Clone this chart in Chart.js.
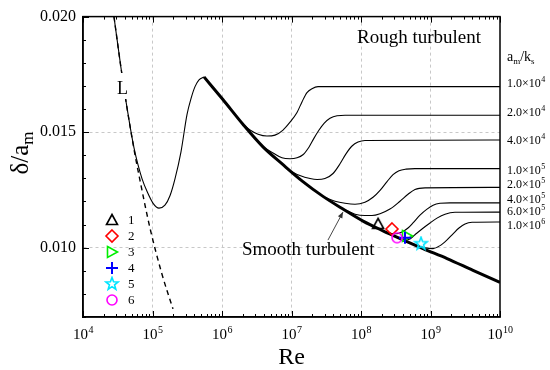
<!DOCTYPE html>
<html><head><meta charset="utf-8">
<script src="https://cdn.jsdelivr.net/npm/chart.js@4/dist/chart.umd.min.js"></script>
<style>html,body{margin:0;padding:0;background:#fff}canvas{display:block}</style>
</head><body>
<canvas id="c" width="550" height="370"></canvas>
<script>
// ---------- data ----------
const xTickValues = [1e4, 1e5, 1e6, 1e7, 1e8, 1e9, 1e10];
const yTickValues = [0.010, 0.015, 0.020];

// laminar line "L" (dashed)
const laminarRe    = [2.79e4, 3.52e4, 4.16e4, 4.75e4, 5.60e4, 6.61e4, 9.20e4, 1.37e5, 1.97e5];
const laminarDelta = [0.02000, 0.01778, 0.01632, 0.01526, 0.01402, 0.01291, 0.01085, 0.00885, 0.00735];

// transition curve (thin solid)
const transRe    = [2.79e4, 3.52e4, 4.16e4, 4.75e4, 5.42e4, 6.18e4, 7.06e4, 8.33e4, 1.02e5, 1.24e5, 1.51e5, 1.79e5, 2.11e5, 2.57e5, 3.14e5, 3.58e5, 4.09e5, 4.67e5, 5.51e5];
const transDelta = [0.02000, 0.01778, 0.01632, 0.01526, 0.01432, 0.01359, 0.01299, 0.01244, 0.01192, 0.01171, 0.01184, 0.01226, 0.01299, 0.01415, 0.01577, 0.01645, 0.01697, 0.01726, 0.01739];

// smooth turbulent curve (thick)
const smoothRe    = [5.51e5, 1.03e6, 2.00e6, 3.89e6, 7.55e6, 1.46e7, 2.84e7, 5.51e7, 1.07e8, 2.07e8, 4.02e8, 7.80e8, 1.73e9, 4.09e9, 1e10];
const smoothDelta = [0.01739, 0.01641, 0.01534, 0.01436, 0.01359, 0.01286, 0.01222, 0.01167, 0.01115, 0.01073, 0.01034, 0.00996, 0.00953, 0.00902, 0.00850];

// rough turbulent curves, a_m/k_s
const roughMantissa = ['1.0', '2.0', '4.0', '1.0', '2.0', '4.0', '6.0', '1.0'];
const roughExponent = ['4', '4', '4', '5', '5', '5', '5', '6'];

const rough1e4Re    = [2.00e6, 2.53e6, 3.30e6, 4.44e6, 5.79e6, 7.55e6, 9.52e6, 1.20e7, 1.42e7, 1.67e7, 1.97e7, 2.41e7, 1e10];
const rough1e4Delta = [0.01534, 0.01509, 0.01491, 0.01483, 0.01487, 0.01509, 0.01543, 0.01585, 0.01632, 0.01671, 0.01688, 0.01697, 0.01697];

const rough2e4Re    = [3.89e6, 5.42e6, 7.29e6, 9.52e6, 1.20e7, 1.46e7, 1.79e7, 2.11e7, 2.49e7, 2.94e7, 3.58e7, 4.52e7, 5.89e7, 1e10];
const rough2e4Delta = [0.01436, 0.01410, 0.01389, 0.01385, 0.01389, 0.01402, 0.01436, 0.01474, 0.01509, 0.01538, 0.01560, 0.01571, 0.01573, 0.01573];

const rough4e4Re    = [9.52e6, 1.32e7, 1.85e7, 2.33e7, 3.03e7, 3.96e7, 4.99e7, 6.08e7, 7.43e7, 9.06e7, 1.14e8, 1e10];
const rough4e4Delta = [0.01333, 0.01312, 0.01299, 0.01295, 0.01299, 0.01321, 0.01363, 0.01406, 0.01440, 0.01457, 0.01464, 0.01466];

const rough1e5Re    = [3.03e7, 4.23e7, 5.89e7, 8.20e7, 1.14e8, 1.49e8, 1.88e8, 2.37e8, 2.89e8, 3.52e8, 4.44e8, 5.98e8, 1e10];
const rough1e5Delta = [0.01218, 0.01201, 0.01192, 0.01188, 0.01197, 0.01218, 0.01248, 0.01286, 0.01316, 0.01333, 0.01340, 0.01342, 0.01342];

const rough2e5Re    = [5.89e7, 8.20e7, 1.14e8, 1.44e8, 1.88e8, 2.61e8, 3.64e8, 4.75e8, 5.98e8, 8.34e8, 1e10];
const rough2e5Delta = [0.01164, 0.01145, 0.01139, 0.01139, 0.01147, 0.01167, 0.01201, 0.01231, 0.01252, 0.01259, 0.01261];

const rough4e5Re    = [2.44e8, 3.19e8, 3.89e8, 4.75e8, 5.60e8, 7.06e8, 8.91e8, 1.09e9, 1.37e9, 1.91e9, 1e10];
const rough4e5Delta = [0.01064, 0.01060, 0.01068, 0.01085, 0.01107, 0.01141, 0.01167, 0.01184, 0.01192, 0.01194, 0.01194];

const rough6e5Re    = [3.41e8, 4.29e8, 5.07e8, 5.98e8, 7.55e8, 9.84e8, 1.24e9, 1.62e9, 2.25e9, 1e10];
const rough6e5Delta = [0.01043, 0.01034, 0.01038, 0.01056, 0.01081, 0.01107, 0.01128, 0.01145, 0.01153, 0.01154];

const rough1e6Re    = [5.07e8, 6.61e8, 8.34e8, 1.09e9, 1.37e9, 1.73e9, 2.11e9, 2.57e9, 3.14e9, 3.96e9, 1e10];
const rough1e6Delta = [0.01021, 0.01008, 0.00999, 0.00996, 0.01009, 0.01034, 0.01060, 0.01085, 0.01103, 0.01110, 0.01111];

// experimental points 1..6
const expLabels = ['1', '2', '3', '4', '5', '6'];
const expRe     = [1.76e8, 2.79e8, 4.59e8, 4.29e8, 7.30e8, 3.30e8];
const expDelta  = [0.01103, 0.01081, 0.01051, 0.01043, 0.01017, 0.01043];

// ---------- helpers ----------
const FONT = '"Liberation Serif", "Times New Roman", serif';
const zip = (xs, ys) => xs.map((v, i) => ({x: v, y: ys[i]}));
const SUP = {'0':'\u2070','1':'\u00B9','2':'\u00B2','3':'\u00B3','4':'\u2074','5':'\u2075','6':'\u2076','7':'\u2077','8':'\u2078','9':'\u2079'};
const sup = s => String(s).split('').map(ch => SUP[ch]).join('');

function makeMarker(kind, color) {
  const s = 16, c = document.createElement('canvas');
  c.width = s; c.height = s;
  const g = c.getContext('2d');
  g.strokeStyle = color; g.lineWidth = 1.6; g.lineJoin = 'miter';
  const m = s / 2;
  g.beginPath();
  if (kind === 'tri') { g.moveTo(m, m - 5.5); g.lineTo(m + 5.5, m + 4.5); g.lineTo(m - 5.5, m + 4.5); g.closePath(); }
  else if (kind === 'diamond') { g.moveTo(m, m - 6); g.lineTo(m + 6, m); g.lineTo(m, m + 6); g.lineTo(m - 6, m); g.closePath(); }
  else if (kind === 'triRight') { g.moveTo(m - 4.5, m - 5.5); g.lineTo(m + 5.5, m); g.lineTo(m - 4.5, m + 5.5); g.closePath(); }
  else if (kind === 'plus') { g.lineWidth = 2; g.moveTo(m - 6, m); g.lineTo(m + 6, m); g.moveTo(m, m - 6); g.lineTo(m, m + 6); }
  else if (kind === 'star') {
    for (let i = 0; i < 10; i++) {
      const r = i % 2 ? 2.7 : 6.5, a = -Math.PI / 2 + i * Math.PI / 5;
      const px = m + r * Math.cos(a), py = m + r * Math.sin(a);
      if (i) g.lineTo(px, py); else g.moveTo(px, py);
    }
    g.closePath();
  }
  else if (kind === 'circle') { g.arc(m, m, 5, 0, Math.PI * 2); }
  g.stroke();
  return c;
}
const markers = [
  makeMarker('tri', '#000000'),
  makeMarker('diamond', '#ff0000'),
  makeMarker('triRight', '#00ee00'),
  makeMarker('plus', '#0000ff'),
  makeMarker('star', '#00e5ff'),
  makeMarker('circle', '#ff00ff')
];

const thin = (re, d) => ({
  data: zip(re, d), borderColor: '#000', borderWidth: 1.1, pointRadius: 0,
  cubicInterpolationMode: 'monotone', fill: false, order: 5
});

const datasets = [
  {data: zip(expRe, expDelta), showLine: false, pointStyle: markers, pointRadius: 6, order: 0},
  {data: zip(smoothRe, smoothDelta), borderColor: '#000', borderWidth: 3, pointRadius: 0,
   cubicInterpolationMode: 'monotone', borderCapStyle: 'butt', fill: false, order: 1},
  {data: zip(laminarRe, laminarDelta), borderColor: '#000', borderWidth: 1.4, borderDash: [5, 4],
   pointRadius: 0, cubicInterpolationMode: 'monotone', fill: false, order: 6},
  Object.assign(thin(transRe, transDelta), {order: 4}),
  thin(rough1e4Re, rough1e4Delta),
  thin(rough2e4Re, rough2e4Delta),
  thin(rough4e4Re, rough4e4Delta),
  thin(rough1e5Re, rough1e5Delta),
  thin(rough2e5Re, rough2e5Delta),
  thin(rough4e5Re, rough4e5Delta),
  thin(rough6e5Re, rough6e5Delta),
  thin(rough1e6Re, rough1e6Delta)
];
const roughPlateaus = [rough1e4Delta, rough2e4Delta, rough4e4Delta, rough1e5Delta, rough2e5Delta, rough4e5Delta, rough6e5Delta, rough1e6Delta].map(a => a[a.length - 1]);

// ---------- decorations plugin ----------
const deco = {
  id: 'deco',
  afterDatasetsDraw(chart) {
    const {ctx} = chart;
    ctx.save();
    // gap + label "L"
    ctx.fillStyle = '#fff';
    ctx.fillRect(116, 73, 13, 26);
    ctx.fillStyle = '#000';
    ctx.font = '18px ' + FONT;
    ctx.textBaseline = 'alphabetic';
    ctx.textAlign = 'left';
    ctx.fillText('L', 117, 94);
    ctx.restore();
  },
  afterDraw(chart) {
    const {ctx, chartArea: a, scales: {x, y}} = chart;
    ctx.save();
    const line = (x1, y1, x2, y2) => { ctx.beginPath(); ctx.moveTo(x1, y1); ctx.lineTo(x2, y2); ctx.stroke(); };
    ctx.strokeStyle = '#000';
    // inward ticks
    ctx.lineWidth = 1;
    for (let e = 4; e <= 10; e++) {
      for (let m = 1; m <= 9; m++) {
        const v = m * Math.pow(10, e);
        if (v > 1e10) break;
        const px = Math.round(x.getPixelForValue(v)) + 0.5;
        const len = m === 1 ? 6 : 3;
        line(px, a.bottom, px, a.bottom - len);
        line(px, a.top, px, a.top + len);
      }
    }
    for (let k = 7; k <= 20; k++) {
      const py = Math.round(y.getPixelForValue(k / 1000)) + 0.5;
      const len = k % 5 === 0 ? 6 : 3;
      line(a.left, py, a.left + len, py);
    }
    // frame
    ctx.lineWidth = 1.5;
    ctx.strokeRect(a.left, a.top, a.right - a.left, a.bottom - a.top);

    ctx.fillStyle = '#000';
    ctx.textBaseline = 'alphabetic';
    ctx.textAlign = 'left';

    // x tick labels 10^n with real superscripts
    xTickValues.forEach(v => {
      const e = String(Math.round(Math.log10(v)));
      ctx.font = '15px ' + FONT;
      const wb = ctx.measureText('10').width;
      ctx.font = '10px ' + FONT;
      const we = ctx.measureText(e).width;
      const left = x.getPixelForValue(v) - (wb + we) / 2;
      ctx.font = '15px ' + FONT;
      ctx.fillText('10', left, 339);
      ctx.font = '10px ' + FONT;
      ctx.fillText(e, left + wb + 0.5, 333);
    });

    // region labels
    ctx.font = '19px ' + FONT;
    ctx.fillText('Rough turbulent', 357, 43);
    ctx.fillText('Smooth turbulent', 242, 255);

    // arrow to smooth curve
    const tx = x.getPixelForValue(5.5e7), ty = y.getPixelForValue(0.01167) + 3;
    const sx = tx - 15, sy = ty + 28;
    ctx.strokeStyle = '#333'; ctx.fillStyle = '#333'; ctx.lineWidth = 0.9;
    line(sx, sy, tx, ty);
    const ang = Math.atan2(ty - sy, tx - sx);
    ctx.beginPath();
    ctx.moveTo(tx, ty);
    ctx.lineTo(tx - 6 * Math.cos(ang) + 2.5 * Math.sin(ang), ty - 6 * Math.sin(ang) - 2.5 * Math.cos(ang));
    ctx.lineTo(tx - 6 * Math.cos(ang) - 2.5 * Math.sin(ang), ty - 6 * Math.sin(ang) + 2.5 * Math.cos(ang));
    ctx.closePath(); ctx.fill();
    ctx.fillStyle = '#000';

    // right-hand labels a_m/k_s
    const lx = a.right + 7;
    let cx = lx;
    const part = (t, f, dy) => { ctx.font = f + 'px ' + FONT; ctx.fillText(t, cx, 61 + dy); cx += ctx.measureText(t).width; };
    part('a', 14, 0); part('m', 9, 3); part('/k', 14, 0); part('s', 9, 3);
    const offs = [-4, -3, 0, 1, -3, -3.5, -1, 3];
    roughPlateaus.forEach((v, i) => {
      const py = y.getPixelForValue(v) + offs[i] + 4;
      ctx.font = '12px ' + FONT;
      const base = roughMantissa[i] + '\u00D710';
      ctx.fillText(base, lx, py);
      const w = ctx.measureText(base).width;
      ctx.font = '8px ' + FONT;
      ctx.fillText(roughExponent[i], lx + w + 0.5, py - 5);
    });

    // legend of experimental points
    ctx.font = '13px ' + FONT;
    ctx.textBaseline = 'middle';
    expLabels.forEach((t, i) => {
      const ly = 220 + i * 16;
      ctx.drawImage(markers[i], 112 - 8, ly - 8);
      ctx.fillText(t, 128, ly + 1);
    });

    // y-axis title  δ/a_m
    ctx.save();
    ctx.translate(28, 153);
    ctx.rotate(-Math.PI / 2);
    ctx.textBaseline = 'alphabetic';
    ctx.font = '25px ' + FONT;
    const t1 = '\u03B4/a';
    const w1 = ctx.measureText(t1).width;
    ctx.font = '17px ' + FONT;
    const w2 = ctx.measureText('m').width;
    const sx0 = -(w1 + w2) / 2;
    ctx.font = '25px ' + FONT;
    ctx.fillText(t1, sx0, 0);
    ctx.font = '17px ' + FONT;
    ctx.fillText('m', sx0 + w1, 5);
    ctx.restore();
    ctx.restore();
  }
};

Chart.defaults.font.family = FONT;
Chart.defaults.color = '#000';

new Chart(document.getElementById('c'), {
  type: 'line',
  data: {datasets},
  options: {
    responsive: false,
    animation: false,
    devicePixelRatio: 1,
    layout: {padding: {top: 13, right: 50, left: 0, bottom: 0}},
    plugins: {legend: {display: false}, tooltip: {enabled: false}},
    scales: {
      x: {
        type: 'logarithmic', min: 1e4, max: 1e10, position: 'bottom',
        afterBuildTicks: s => { s.ticks = xTickValues.map(v => ({value: v, major: true})); },
        afterFit: s => { s.height = 53; },
        ticks: {
          autoSkip: false, maxRotation: 0, padding: 7,
          color: 'rgba(0,0,0,0)',
          font: {size: 15, family: FONT},
          callback: v => '10' + sup(Math.round(Math.log10(v)))
        },
        grid: {
          drawTicks: false, lineWidth: 1,
          color: c => (c.tick && (c.tick.value === 1e4 || c.tick.value === 1e10)) ? 'rgba(0,0,0,0)' : '#c8c8c8'
        },
        border: {display: true, color: '#000', width: 1.5, dash: [3, 3]},
        title: {display: true, text: 'Re', font: {size: 24, family: FONT, lineHeight: 1}, padding: 0}
      },
      y: {
        type: 'linear', min: 0.007, max: 0.020,
        afterBuildTicks: s => { s.ticks = yTickValues.map(v => ({value: v})); },
        afterFit: s => { s.width = 83; },
        ticks: {
          padding: 7, font: {size: 16, family: FONT},
          callback: v => v.toFixed(3)
        },
        grid: {
          drawTicks: false, lineWidth: 1,
          color: c => (c.tick && Math.abs(c.tick.value - 0.020) < 1e-9) ? 'rgba(0,0,0,0)' : '#c8c8c8'
        },
        border: {display: true, color: '#000', width: 1.5, dash: [3, 3]}
      }
    }
  },
  plugins: [deco]
});
</script>
</body></html>
